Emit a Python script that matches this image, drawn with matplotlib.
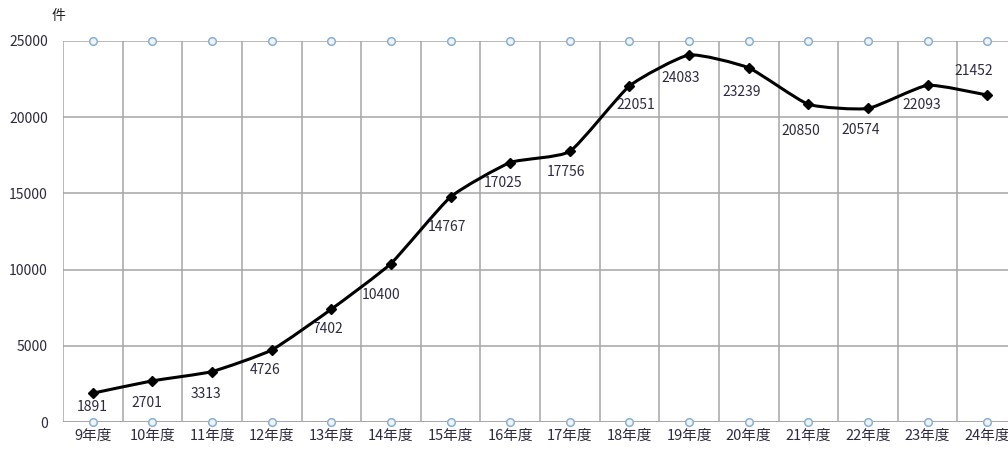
import numpy as np
import matplotlib
matplotlib.use("Agg")
import matplotlib.pyplot as plt
from matplotlib.path import Path
from matplotlib.patches import PathPatch

plt.rcParams['font.family'] = ['Noto Sans CJK JP', 'DejaVu Sans']

years = ['9年度', '10年度', '11年度', '12年度', '13年度', '14年度', '15年度', '16年度',
         '17年度', '18年度', '19年度', '20年度', '21年度', '22年度', '23年度', '24年度']
counts = [1891, 2701, 3313, 4726, 7402, 10400, 14767, 17025,
          17756, 22051, 24083, 23239, 20850, 20574, 22093, 21452]
y_max = 25000

# label offsets in pixels (dx right, dy down)
label_px = [(-1, 14), (-6, 22), (-6, 22), (-7, 20), (-4, 20), (-10, 31), (-4, 30), (-7, 20),
            (-4, 21), (6, 19), (-8, 23), (-7, 24), (-8, 27), (-7, 22), (-6, 20), (-13, -24)]

txt_col = '#2e2a40'
grid_col = '#a6a6a6'

fig = plt.figure(figsize=(10.08, 4.51), dpi=100)
ax = fig.add_axes([63 / 1008, 29 / 451, 954 / 1008, 381 / 451])

x = np.arange(len(years))
ax.set_xlim(-0.5, len(years) - 0.5)
ax.set_ylim(0, y_max)

# grid
ax.set_yticks(np.arange(0, y_max + 1, 5000))
ax.set_xticks(x)
ax.set_xticks(np.arange(-0.5, len(years)), minor=True)
ax.grid(axis='y', color=grid_col, lw=1.1)
ax.grid(axis='x', which='minor', color=grid_col, lw=1.1)
for s in ax.spines.values():
    s.set_visible(False)
ax.axhline(0, color=grid_col, lw=1.3, zorder=1)
ax.tick_params(axis='both', which='both', length=0)
ax.tick_params(axis='y', pad=11, labelsize=10, labelcolor=txt_col)
ax.tick_params(axis='x', pad=5, labelsize=10.5, labelcolor=txt_col)
ax.set_xticklabels(years)

# light blue circles on top and bottom edges
for yv in (0, y_max):
    ax.plot(x, [yv] * len(x), ls='none', marker='o', ms=5.5, mfc='#eef4fa',
            mec='#8ab0d0', mew=1.1, clip_on=False, zorder=3)

# lightly smoothed line through the data points
pts = np.column_stack([x, counts]).astype(float)
verts = [pts[0]]
codes = [Path.MOVETO]
n = len(pts)
k = 1 / 12
for i in range(n - 1):
    p0 = pts[max(i - 1, 0)]
    p1 = pts[i]
    p2 = pts[i + 1]
    p3 = pts[min(i + 2, n - 1)]
    verts += [p1 + (p2 - p0) * k, p2 - (p3 - p1) * k, p2]
    codes += [Path.CURVE4] * 3
ax.add_patch(PathPatch(Path(verts, codes), fill=False, ec='black', lw=2.2, zorder=4,
                       capstyle='round', joinstyle='round'))
ax.plot(x, counts, ls='none', marker='D', ms=5.5, color='black', zorder=5)

for xi, v, (dx, dy) in zip(x, counts, label_px):
    ax.annotate(str(v), (xi, v), xytext=(dx * 0.72, -dy * 0.72), textcoords='offset points',
                ha='center', va='center', fontsize=10, color=txt_col, zorder=6)

fig.text(58 / 1008, 1 - 16 / 451, '件', ha='center', va='center', fontsize=10, color='#222222')

fig.savefig('out.png', dpi=100, facecolor='white')
